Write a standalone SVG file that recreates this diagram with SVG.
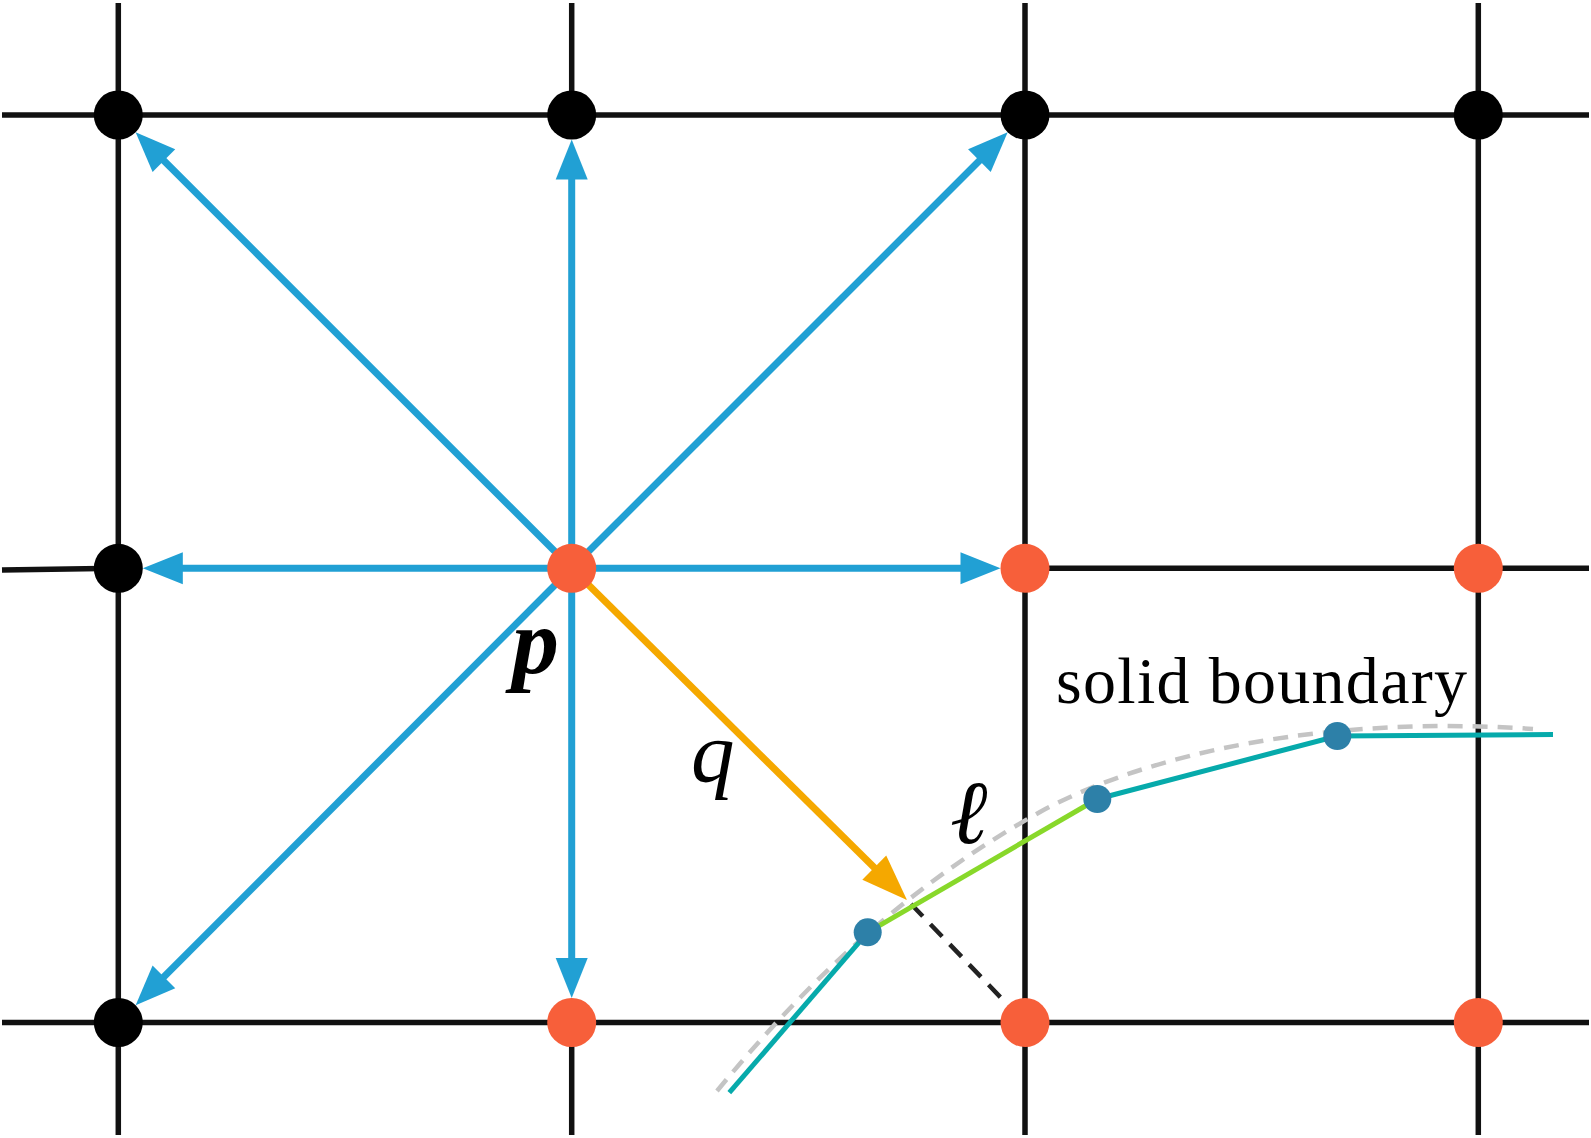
<svg xmlns="http://www.w3.org/2000/svg" width="1591" height="1138" viewBox="0 0 1591 1138">
<style>
.grid{stroke:#111;stroke-width:5.5;fill:none}
.blue{stroke:#21A0D4;stroke-width:7;fill:none}
.orange{stroke:#F5A800;stroke-width:7;fill:none}
.bnode{fill:#000}
.rnode{fill:#F75F3A}
.dot{fill:#2D80A8}
.teal{stroke:#06AAAB;stroke-width:5;fill:none}
.green{stroke:#88D82A;stroke-width:5;fill:none}
.gdash{stroke:#C4C4C4;stroke-width:4.5;fill:none;stroke-dasharray:15 10}
.kdash{stroke:#222;stroke-width:4.5;fill:none;stroke-dasharray:17 11}
.lbl{font-family:"Liberation Serif",serif;fill:#000}
</style>
<defs>
<marker id="ab" markerUnits="userSpaceOnUse" viewBox="-2 -20 50 40" markerWidth="50" markerHeight="40" refX="2" refY="0" orient="auto" overflow="visible">
<path d="M0,-16 L40,0 L0,16 z" fill="#21A0D4"/>
</marker>
<marker id="ao" markerUnits="userSpaceOnUse" viewBox="-2 -20 54 40" markerWidth="54" markerHeight="40" refX="2" refY="0" orient="auto" overflow="visible">
<path d="M0,-17 L46,0 L0,17 z" fill="#F5A800"/>
</marker>
</defs>
<g id="grid">
<line class="grid" x1="2" y1="115" x2="1589" y2="115"/>
<line class="grid" x1="2" y1="570" x2="118.3" y2="568.3"/>
<line class="grid" x1="1025" y1="568.3" x2="1589" y2="568.3"/>
<line class="grid" x1="2" y1="1022.5" x2="1589" y2="1022.5"/>
<line class="grid" x1="118.3" y1="3" x2="118.3" y2="1135"/>
<line class="grid" x1="571.7" y1="3" x2="571.7" y2="115"/>
<line class="grid" x1="571.7" y1="1022.5" x2="571.7" y2="1135"/>
<line class="grid" x1="1025" y1="3" x2="1025" y2="1135"/>
<line class="grid" x1="1478.3" y1="3" x2="1478.3" y2="1135"/>
</g>
<g id="boundary">
<path class="gdash" d="M717,1091 C800,990 900,890 1040,812 C1150,752 1330,715 1533,729"/>
<line class="kdash" x1="911" y1="904" x2="1006" y2="1003"/>
<path class="teal" d="M729.3,1092.7 L867.7,932.3"/>
<path class="green" d="M867.7,932.3 L1097.3,799"/>
<path class="teal" d="M1097.3,799 L1337.3,736 L1553,734.5"/>
</g>
<g id="connectors">
<line class="blue" x1="571.7" y1="568.3" x2="571.7" y2="177.5" marker-end="url(#ab)"/>
<line class="blue" x1="571.7" y1="568.3" x2="571.7" y2="960" marker-end="url(#ab)"/>
<line class="blue" x1="571.7" y1="568.3" x2="180.8" y2="568.3" marker-end="url(#ab)"/>
<line class="blue" x1="571.7" y1="568.3" x2="962.5" y2="568.3" marker-end="url(#ab)"/>
<line class="blue" x1="571.7" y1="568.3" x2="162.5" y2="159.2" marker-end="url(#ab)"/>
<line class="blue" x1="571.7" y1="568.3" x2="980.8" y2="159.2" marker-end="url(#ab)"/>
<line class="blue" x1="571.7" y1="568.3" x2="162.5" y2="978.3" marker-end="url(#ab)"/>
<line class="orange" x1="571.7" y1="568.3" x2="875.7" y2="869.1" marker-end="url(#ao)"/>
</g>
<g id="node-r0c0"><circle class="bnode" cx="118.3" cy="115" r="24.5"/></g>
<g id="node-r0c1"><circle class="bnode" cx="571.7" cy="115" r="24.5"/></g>
<g id="node-r0c2"><circle class="bnode" cx="1025" cy="115" r="24.5"/></g>
<g id="node-r0c3"><circle class="bnode" cx="1478.3" cy="115" r="24.5"/></g>
<g id="node-r1c0"><circle class="bnode" cx="118.3" cy="568.3" r="24.5"/></g>
<g id="node-p"><circle class="rnode" cx="571.7" cy="568.3" r="24.5"/></g>
<g id="node-r1c2"><circle class="rnode" cx="1025" cy="568.3" r="24.5"/></g>
<g id="node-r1c3"><circle class="rnode" cx="1478.3" cy="568.3" r="24.5"/></g>
<g id="node-r2c0"><circle class="bnode" cx="118.3" cy="1022.5" r="24.5"/></g>
<g id="node-r2c1"><circle class="rnode" cx="571.7" cy="1022.5" r="24.5"/></g>
<g id="node-r2c2"><circle class="rnode" cx="1025" cy="1022.5" r="24.5"/></g>
<g id="node-r2c3"><circle class="rnode" cx="1478.3" cy="1022.5" r="24.5"/></g>
<g id="bdots">
<circle class="dot" cx="867.7" cy="932.3" r="14"/>
<circle class="dot" cx="1097.3" cy="799" r="14"/>
<circle class="dot" cx="1337.3" cy="736" r="14"/>
</g>
<g id="labels">
<text class="lbl" x="512" y="673" font-size="94" font-weight="bold" font-style="italic">p</text>
<text class="lbl" x="691" y="781" font-size="87" font-style="italic">q</text>
<text class="lbl" x="950" y="843" font-size="90" font-style="italic">ℓ</text>
<text class="lbl" x="1056" y="702.7" font-size="66" textLength="411" lengthAdjust="spacing">solid boundary</text>
</g>
</svg>
